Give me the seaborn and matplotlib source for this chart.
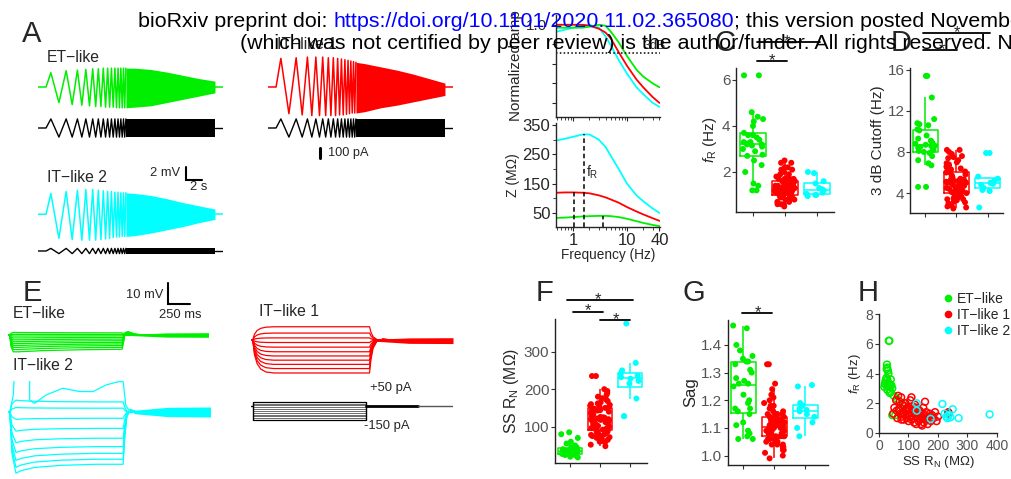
import numpy as np
import pandas as pd
import matplotlib
matplotlib.use('Agg')
import matplotlib.pyplot as plt
import seaborn as sns
from matplotlib.lines import Line2D

W, H = 1012, 479
GREEN, RED, CYAN = '#00ee00', '#ff0000', '#00ffff'
GROUPS = ['ET-like', 'IT-like 1', 'IT-like 2']
PAL = dict(zip(GROUPS, [GREEN, RED, CYAN]))
GREY = '#555555'

# ---------------- data ----------------
# A: chirp responses (s, mV) - times of the visible peaks/troughs
chirp_t = [1.6, 2.6, 3.5, 4.25, 4.9, 5.45, 5.95, 6.4, 6.8, 7.17, 7.5, 7.82, 8.12, 8.4,
           8.66, 8.9, 9.13, 9.35, 9.56, 9.76, 9.95, 10.13, 10.3, 10.47, 10.63, 10.78, 10.93]
et_amp = [2.2, -2.4, 2.5, -2.7, 2.6, -2.8, 2.7, -2.9, 2.8, -3.0, 2.8, -3.0, 2.9, -3.1,
          2.9, -3.1, 2.9, -3.1, 2.9, -3.2, 2.9, -3.2, 2.9, -3.2, 2.9, -3.2, 2.9]
it1_amp = [4.4, -4.1, 4.5, -4.3, 4.6, -4.4, 4.6, -4.4, 4.6, -4.4, 4.5, -4.4, 4.5, -4.4,
           4.4, -4.3, 4.3, -4.3, 4.2, -4.2, 4.1, -4.1, 4.0, -4.0, 3.9, -4.0, 3.8]
it2_amp = [3.2, -3.7, 3.5, -3.9, 3.7, -4.0, 3.8, -4.0, 3.8, -4.0, 3.7, -3.9, 3.6, -3.8,
           3.5, -3.7, 3.5, -3.6, 3.4, -3.5, 3.4, -3.5, 3.3, -3.4, 3.3, -3.4, 3.3]
dense_t = [10.93, 12, 14, 16, 18, 20, 22]
et_top = [2.9, 2.9, 2.7, 2.3, 1.8, 1.3, 0.9]
et_bot = [-3.2, -3.1, -2.9, -2.4, -1.9, -1.4, -0.9]
it1_top = [3.8, 3.6, 3.1, 2.6, 2.0, 1.3, 0.6]
it1_bot = [-4.0, -3.8, -3.2, -2.8, -2.3, -1.8, -1.3]
it2_top = [3.3, 3.2, 2.9, 2.4, 1.8, 1.3, 0.8]
it2_bot = [-3.4, -3.3, -2.9, -2.4, -1.9, -1.3, -0.8]
stim_amp_big = 70   # pA
stim_amp_small = 20

# B: impedance profiles
freq = [0.5, 0.7, 1, 1.5, 2, 3, 4, 5, 7, 10, 15, 20, 30, 40]
norm_et = [0.97, 0.97, 0.97, 0.97, 0.98, 1.0, 0.99, 0.93, 0.82, 0.68, 0.54, 0.47, 0.40, 0.36]
norm_it1 = [1.0, 1.0, 1.0, 1.0, 0.99, 0.96, 0.92, 0.86, 0.72, 0.58, 0.44, 0.36, 0.26, 0.2]
norm_it2 = [0.93, 0.95, 0.97, 0.99, 1.0, 0.97, 0.88, 0.79, 0.64, 0.5, 0.36, 0.29, 0.2, 0.16]
z_et = [33, 34, 36, 38, 39, 40, 40, 39, 36, 30, 22, 16, 9, 5]
z_it1 = [119, 120, 120, 119, 117, 110, 103, 96, 85, 70, 55, 45, 32, 23]
z_it2 = [298, 303, 310, 318, 318, 300, 275, 245, 200, 150, 110, 90, 65, 50]
fr_freq = [3.6, 1.05, 1.6]
fr_z = [40, 120, 318]

# C/D/F/G/H: per-cell measurements
et_fr = [6.2, 6.2, 4.6, 4.4, 4.3, 4.2, 4.0, 3.7, 3.6, 3.6, 3.5, 3.4, 3.3, 3.3, 3.25,
         3.2, 3.2, 3.15, 3.1, 3.0, 2.9, 2.75, 2.7, 2.5, 2.3, 2.0, 1.5, 1.4, 1.2, 1.2]
et_rn = [35, 33, 27, 28, 26, 30, 32, 25, 28, 40, 22, 30, 35, 20, 38,
         25, 42, 30, 18, 45, 28, 40, 36, 50, 60, 85, 70, 80, 45, 55]
et_cut = [15.4, 15.4, 13.3, 11.2, 10.8, 10.7, 10.6, 10.2, 10.1, 9.6, 9.3, 9.1, 8.9, 8.8, 8.7,
          8.6, 8.6, 8.5, 8.4, 8.3, 8.2, 8.1, 8.0, 7.9, 7.6, 7.2, 6.9, 6.7, 4.6, 4.6]
et_sag = [1.47, 1.46, 1.40, 1.38, 1.36, 1.35, 1.34, 1.34, 1.33, 1.31, 1.30, 1.28, 1.27, 1.26, 1.26,
          1.25, 1.22, 1.20, 1.19, 1.17, 1.17, 1.16, 1.15, 1.12, 1.11, 1.09, 1.08, 1.07, 1.06, 1.06]

it1_rn = [52, 58, 62, 65, 68, 70, 72, 75, 78, 80, 82, 84, 86, 88, 90, 92, 94, 96, 98, 100,
          102, 104, 106, 108, 110, 112, 114, 116, 118, 119, 120, 122, 124, 126, 128, 130, 132, 134, 136, 138,
          140, 142, 144, 146, 148, 150, 152, 154, 156, 158, 160, 162, 165, 168, 172, 176, 180, 185, 190, 195,
          200, 235, 235, 60, 76, 95, 110, 125, 143, 48]
it1_fr = [1.7, 2.2, 1.0, 2.5, 1.6, 2.1, 1.3, 2.4, 1.1, 1.9, 1.4, 0.9, 1.8, 1.2, 2.0, 1.5, 1.0, 1.7, 1.3, 0.8,
          1.6, 1.1, 2.2, 1.4, 0.9, 1.2, 1.8, 1.0, 1.5, 0.7, 1.3, 1.9, 1.1, 0.6, 1.4, 1.0, 1.6, 0.8, 1.2, 1.5,
          0.9, 1.1, 1.3, 0.5, 1.0, 1.7, 0.7, 1.2, 2.1, 0.9, 1.4, 1.0, 0.6, 1.1, 1.3, 0.8, 1.2, 1.0, 1.4, 0.8,
          1.1, 1.3, 1.4, 1.5, 0.9, 1.6, 2.4, 1.7, 0.6, 1.3]
it1_cut = [6.5, 7.8, 4.2, 8.2, 6.0, 7.5, 5.0, 8.0, 4.5, 7.0, 5.4, 3.8, 6.8, 4.8, 7.2, 5.8, 4.0, 6.3, 5.1, 3.4,
           6.1, 4.4, 7.6, 5.3, 3.6, 4.7, 6.6, 4.1, 5.6, 3.0, 5.0, 6.9, 4.3, 2.7, 5.2, 3.9, 6.0, 3.3, 4.6, 5.5,
           3.7, 4.4, 5.0, 2.5, 4.0, 6.2, 3.1, 4.9, 7.4, 3.5, 5.3, 4.2, 2.8, 4.5, 5.1, 3.2, 4.8, 4.1, 5.2, 3.4,
           4.6, 5.0, 5.2, 5.7, 3.9, 6.4, 8.2, 6.7, 2.6, 5.0]
it1_sag = [1.33, 1.33, 1.26, 1.24, 1.22, 1.21, 1.20, 1.19, 1.18, 1.17, 1.16, 1.16, 1.15, 1.15, 1.15,
           1.14, 1.14, 1.14, 1.13, 1.13, 1.13, 1.13, 1.12, 1.12, 1.12, 1.12, 1.11, 1.11, 1.11, 1.11,
           1.11, 1.10, 1.10, 1.10, 1.10, 1.10, 1.09, 1.09, 1.09, 1.09, 1.08, 1.08, 1.08, 1.08, 1.07,
           1.07, 1.07, 1.07, 1.06, 1.06, 1.06, 1.05, 1.05, 1.05, 1.04, 1.04, 1.03, 1.03, 1.02, 1.02,
           1.01, 1.00, 0.99, 1.18, 1.13, 1.09, 1.06, 1.12, 1.04, 1.15]

it2_rn = [128, 215, 250, 128, 222, 375, 236, 228, 242, 270, 232, 175]
it2_fr = [2.0, 1.95, 1.6, 1.5, 1.3, 1.25, 1.2, 1.1, 1.05, 1.0, 1.0, 0.95]
it2_cut = [7.9, 7.9, 5.6, 5.4, 5.2, 5.0, 4.9, 4.8, 4.5, 4.3, 4.2, 2.6]
it2_sag = [1.255, 1.25, 1.19, 1.18, 1.17, 1.165, 1.16, 1.15, 1.14, 1.12, 1.10, 1.07]

# E: step responses (ms, mV) and current steps (pA)
et_levels = [1.2, 0.3, -0.5, -1.4, -2.3, -3.2, -4.1, -5.0, -5.9, -6.9, -8.0]
et_knot_t = [0, 20, 35, 60, 120, 400, 800, 1300, 1315, 1335, 1370, 1450, 1550, 2280]
et_knot_f = [0, 0, 0.7, 1.0, 1.0, 0.93, 0.88, 0.85, 0.5, -0.15, -0.2, -0.05, 0, 0]
it1_levels = [6.3, 3.3, 1.0, -1.2, -3.4, -5.6, -7.6, -9.6, -11.6, -13.6, -15.7]
it1_knot_t = [0, 20, 40, 70, 110, 170, 260, 1350, 1365, 1390, 1430, 1500, 1600, 2300]
it1_knot_f = [0, 0, 0.45, 0.72, 0.88, 0.97, 1.0, 1.0, 0.6, 0.25, 0.05, -0.03, 0, 0]
it2_levels = [4.8, 1.8, -3.0, -7.8, -12.5, -16.5, -19.7, -22.5, -24.9]
it2_knot_t = [0, 20, 45, 90, 150, 300, 600, 1000, 1300, 1315, 1340, 1380, 1450, 2280]
it2_knot_f = [0, 0, 0.8, 1.17, 1.12, 1.06, 1.02, 1.0, 1.0, 0.55, 0.1, -0.05, 0, 0]
it2_spike_t = [0, 20, 60, 95, 240, 245, 300, 430, 620, 810, 960, 1110, 1245, 1300, 1330, 1380, 2280]
it2_spike_v = [0, 0, 8, 40, 40, 5.7, 4.1, 8.1, 11.3, 9.7, 9.7, 12.9, 14.4, 14.4, 3, 0, 0]
tail_t = [1420, 1800, 2300]
et_tail = ([0.3, 1.0, 1.1], [-0.3, -1.0, -1.1])
it1_tail = ([0.4, 1.0, 1.1], [-0.6, -1.6, -1.7])
it2_tail = ([0.8, 2.2, 2.4], [-0.8, -2.2, -2.4])
step_pa = [50, 30, 10, -10, -30, -50, -70, -90, -110, -130, -150]

df = pd.DataFrame({
    'group': [GROUPS[0]] * len(et_fr) + [GROUPS[1]] * len(it1_fr) + [GROUPS[2]] * len(it2_fr),
    'fr': et_fr + it1_fr + it2_fr,
    'cut': et_cut + it1_cut + it2_cut,
    'rn': et_rn + it1_rn + it2_rn,
    'sag': et_sag + it1_sag + it2_sag,
})

# ---------------- style ----------------
sns.set_style('ticks')
plt.rcParams['font.family'] = ['Liberation Sans', 'DejaVu Sans']
plt.rcParams['mathtext.fontset'] = 'custom'
plt.rcParams['mathtext.rm'] = 'Liberation Sans'
plt.rcParams['mathtext.it'] = 'Liberation Sans:italic'
plt.rcParams['axes.linewidth'] = 1.0
plt.rcParams['xtick.major.size'] = 3
plt.rcParams['ytick.major.size'] = 3

fig = plt.figure(figsize=(W / 100, H / 100), dpi=100)


def px_axes(x, y, w, h, **kw):
    ax = fig.add_axes([x / W, 1 - (y + h) / H, w / W, h / H], **kw)
    return ax


def trace_axes(x, y, w, h, xlim, ylim):
    ax = px_axes(x, y, w, h)
    ax.set_xlim(*xlim)
    ax.set_ylim(*ylim)
    ax.patch.set_visible(False)
    ax.axis('off')
    return ax


# ---------------- A: chirp traces ----------------
def chirp(ax, amp, top, bot, color, lw=1.1):
    ax.plot([0, 1.0] + chirp_t, [0, 0] + amp, color=color, lw=lw)
    ax.fill_between(dense_t, top, bot, color=color, lw=0)
    ax.plot([22, 23], [0, 0], color=color, lw=lw)


def stim(ax, a):
    amps = [a if i % 2 == 0 else -a for i in range(len(chirp_t))]
    ax.plot([0, 1.0] + chirp_t, [0, 0] + amps, color='k', lw=1.0)
    ax.fill_between([dense_t[0], dense_t[-1]], [a, a], [-a, -a], color='k', lw=0)
    ax.plot([22, 23], [0, 0], color='k', lw=1.0)


chirp(trace_axes(38, 61, 185, 52, (0, 23), (-4, 4)), et_amp, et_top, et_bot, GREEN)
stim(trace_axes(38, 115, 185, 26, (0, 23), (-100, 100)), stim_amp_big)
chirp(trace_axes(268, 48, 185, 78, (0, 23), (-6, 6)), it1_amp, it1_top, it1_bot, RED)
stim(trace_axes(268, 115, 185, 26, (0, 23), (-100, 100)), stim_amp_big)
chirp(trace_axes(38, 185, 185, 58.5, (0, 23), (-4.5, 4.5)), it2_amp, it2_top, it2_bot, CYAN)
stim(trace_axes(38, 238, 185, 26, (0, 23), (-100, 100)), stim_amp_small)

# ---------------- B: impedance ----------------
axb1 = px_axes(556, 15, 104, 102)
for vals, c in [(norm_it2, CYAN), (norm_it1, RED), (norm_et, GREEN)]:
    sns.lineplot(x=freq, y=vals, color=c, lw=1.3, ax=axb1)
axb1.axhline(0.707, color='k', ls=(0, (1, 1.5)), lw=1.1)
axb1.set_xscale('log')
axb1.set_xlim(0.48, 41)
axb1.set_ylim(0.056, 1.1)
axb1.set_yticks([0.2, 0.4, 0.6, 0.8, 1.0])
axb1.set_yticklabels(['', '', '', '', '1.0'], fontsize=11)
axb1.set_xticks([1, 10])
axb1.set_xticklabels([])
axb1.tick_params(axis='x', which='minor', length=2)
axb1.set_ylabel('Normalized amp', fontsize=11, labelpad=2)
axb1.text(32, 0.78, '3dB', fontsize=9, ha='center', va='center')
sns.despine(ax=axb1)

axb2 = px_axes(556, 123, 104, 104)
for vals, c in [(z_it2, CYAN), (z_it1, RED), (z_et, GREEN)]:
    sns.lineplot(x=freq, y=vals, color=c, lw=1.3, ax=axb2)
axb2.vlines(fr_freq, 2, fr_z, colors='k', linestyles=(0, (3, 2)), lw=1.1)
axb2.set_xscale('log')
axb2.set_xlim(0.48, 41)
axb2.set_ylim(2, 357)
axb2.set_yticks([50, 150, 250, 350])
axb2.set_yticks([100, 200, 300], minor=True)
axb2.tick_params(axis='y', which='minor', length=2)
axb2.set_xticks([1, 10, 40])
axb2.set_xticklabels(['1', '10', '40'])
axb2.tick_params(axis='both', labelsize=12, pad=1)
axb2.tick_params(axis='x', which='minor', length=2)
axb2.set_xlabel('Frequency (Hz)', fontsize=9.8, labelpad=0)
axb2.set_ylabel('Z (M\u03a9)', fontsize=10, labelpad=2)
axb2.text(1.75, 190, r'f$_\mathrm{R}$', fontsize=10, ha='left', va='center')
sns.despine(ax=axb2)


# ---------------- C, D, F, G: box + strip ----------------
def box_panel(ax, col, xlim, ylim, yticks, ylabel, whis=1.5, lsize=11):
    sns.boxplot(data=df, x='group', y=col, hue='group', palette=PAL, order=GROUPS,
                hue_order=GROUPS, fill=False, showfliers=False, showcaps=False, width=0.8,
                linewidth=1.1, whis=whis, legend=False, ax=ax)
    sns.stripplot(data=df, x='group', y=col, hue='group', palette=PAL, order=GROUPS,
                  hue_order=GROUPS, jitter=0.33, size=4.3, linewidth=0, legend=False,
                  ax=ax, zorder=3)
    ax.set_xlim(*xlim)
    ax.set_ylim(*ylim)
    ax.set_yticks(yticks)
    ax.set_xticks([0, 1, 2])
    ax.set_xticklabels([])
    ax.set_xlabel('')
    ax.set_ylabel(ylabel, fontsize=lsize, labelpad=2)
    ax.tick_params(axis='y', labelsize=11, labelcolor=GREY, colors='#333333', pad=1)
    ax.tick_params(axis='x', colors='#333333')
    for s in ['left', 'bottom']:
        ax.spines[s].set_color('#222222')
    sns.despine(ax=ax)


np.random.seed(7)  # jitter of the strip points only
box_panel(px_axes(736, 68, 98, 144), 'fr', (-0.53, 2.53), (0.26, 6.52), [2, 4, 6],
          r'$\it{f}_\mathrm{R}$ (Hz)')
box_panel(px_axes(910, 68, 93, 144.5), 'cut', (-0.48, 2.49), (2.11, 16.17), [4, 8, 12, 16],
          '3 dB Cutoff (Hz)')
box_panel(px_axes(555, 319, 92, 144.3), 'rn', (-0.5, 2.57), (2.4, 387), [100, 200, 300],
          r'SS R$_\mathrm{N}$ (M$\Omega$)', whis=1.0, lsize=11.3)
box_panel(px_axes(728, 320, 100, 145), 'sag', (-0.49, 2.73), (0.966, 1.49),
          [1.0, 1.1, 1.2, 1.3, 1.4], 'Sag', lsize=12)

# ---------------- H: fR vs RN ----------------
axh = px_axes(879, 314, 118, 119)
for rn, fr, c in [(et_rn, et_fr, GREEN), (it1_rn, it1_fr, RED), (it2_rn, it2_fr, CYAN)]:
    axh.scatter(rn, fr, s=24, facecolors='none', edgecolors=c, linewidths=1.1, zorder=3)
axh.set_xlim(0, 400)
axh.set_ylim(0, 8)
axh.set_xticks([0, 100, 200, 300, 400])
axh.set_yticks([0, 2, 4, 6, 8])
axh.tick_params(axis='both', labelsize=10, labelcolor=GREY, colors='#333333', pad=1)
axh.set_xlabel(r'SS R$_\mathrm{N}$ (M$\Omega$)', fontsize=9.5, labelpad=1)
axh.set_ylabel(r'$\it{f}_\mathrm{R}$ (Hz)', fontsize=9.5, labelpad=2)
sns.despine(ax=axh)
handles = [Line2D([], [], marker='o', ls='', color=c, markersize=4.5) for c in [GREEN, RED, CYAN]]
axh.legend(handles, ['ET\u2212like', 'IT\u2212like 1', 'IT\u2212like 2'], loc='upper left',
           bbox_to_anchor=(940 / W, 1 - 292 / H), bbox_transform=fig.transFigure,
           frameon=False, fontsize=10, handletextpad=0.0, labelspacing=0.15,
           borderaxespad=0, handlelength=1.2, borderpad=0)

# ---------------- E: step traces ----------------
def steps(ax, levels, kt, kf, color, tail):
    for lvl in levels:
        ax.plot(kt, [lvl * f for f in kf], color=color, lw=0.9)
    ax.fill_between(tail_t, tail[0], tail[1], color=color, lw=0)


ax_e1 = trace_axes(8, 314, 200, 63, (0, 2280), (-20, 10))
steps(ax_e1, et_levels, et_knot_t, et_knot_f, GREEN, et_tail)
ax_e2 = trace_axes(8, 381.3, 202, 97.9, (0, 2280), (-32, 14.6))
steps(ax_e2, it2_levels, it2_knot_t, it2_knot_f, CYAN, it2_tail)
ax_e2.plot(it2_spike_t, it2_spike_v, color=CYAN, lw=0.9)
ax_e3 = trace_axes(251, 319, 202, 63, (0, 2300), (-20, 10))
steps(ax_e3, it1_levels, it1_knot_t, it1_knot_f, RED, it1_tail)
ax_e4 = trace_axes(251, 399.9, 202, 22, (0, 2300), (-170, 70))
for i, pa in enumerate(step_pa):
    edge = i in (0, len(step_pa) - 1)
    ax_e4.plot([20, 1310], [pa, pa], color='k' if edge else '#555555', lw=0.9 if edge else 0.6)
ax_e4.vlines([20, 1310], step_pa[-1], step_pa[0], colors='k', lw=1.0)
ax_e4.plot([0, 20], [0, 0], color='k', lw=1.0)
ax_e4.plot([1310, 1900], [0, 0], color='k', lw=2.0)
ax_e4.plot([1900, 2300], [0, 0], color='#555555', lw=1.0)

# ---------------- annotations (pixel canvas) ----------------
ax0 = fig.add_axes([0, 0, 1, 1], zorder=10)
ax0.set_xlim(0, W)
ax0.set_ylim(H, 0)
ax0.patch.set_visible(False)
ax0.axis('off')

for s, x, y in [('A', 32, 34), ('E', 32, 293), ('F', 545, 293), ('G', 694, 293),
                ('H', 868, 293), ('C', 725, 43), ('D', 901, 43)]:
    ax0.text(x, y, s, fontsize=21, ha='center', va='center')

for s, x, y, fs in [('ET\u2212like', 47, 57.5, 11.3), ('IT\u2212like 1', 277, 44, 11.3),
                    ('IT\u2212like 2', 47, 177.5, 11.3), ('ET\u2212like', 13, 314, 11.3),
                    ('IT\u2212like 2', 13, 366, 11.3), ('IT\u2212like 1', 259, 311.5, 11.3),
                    ('2 s', 190, 187, 9.3), ('100 pA', 328, 153, 9.2), ('250 ms', 159, 315.5, 9.4),
                    ('+50 pA', 370, 388, 9.4), ('-150 pA', 364, 426, 9.4)]:
    ax0.text(x, y, s, fontsize=fs, ha='left', va='center')
ax0.text(180, 172.5, '2 mV', fontsize=9.3, ha='right', va='center')
ax0.text(163, 295, '10 mV', fontsize=9.3, ha='right', va='center')

# scale bars
ax0.plot([186, 186, 202], [167, 180, 180], color='k', lw=1.5, solid_joinstyle='miter')
ax0.plot([320, 320], [148, 158], color='k', lw=2.2)
ax0.plot([168, 168, 190], [283, 304, 304], color='k', lw=1.5, solid_joinstyle='miter')

# significance bars
for x0, x1, y, xs in [(757, 787, 61, 772), (757, 820, 42, 787), (923, 957, 50, 942),
                      (923, 990, 33, 957), (567, 633, 300, 598), (573, 603, 311.5, 588),
                      (600, 630, 320, 616), (742, 772, 313, 758)]:
    ax0.plot([x0, x1], [y, y], color='k', lw=1.3)
    ax0.text(xs, y + 4, '*', fontsize=12, ha='center', va='baseline')

# ---------------- header ----------------
renderer = fig.canvas.get_renderer()


def header(x, y, parts):
    for s, c in parts:
        t = fig.text(x / W, 1 - y / H, s, color=c, fontsize=15.4, ha='left', va='baseline',
                     zorder=20)
        x += t.get_window_extent(renderer=renderer).width


header(138, 27, [('bioRxiv preprint doi: ', 'k'),
                 ('https://doi.org/10.1101/2020.11.02.365080', '#0000ff'),
                 ('; this version posted November 3, 2020. The copyright holder for this preprint', 'k')])
header(240, 49, [('(which was not certified by peer review) is the author/funder. '
                  'All rights reserved. No reuse allowed without permission.', 'k')])

fig.savefig('out.png', dpi=100)
